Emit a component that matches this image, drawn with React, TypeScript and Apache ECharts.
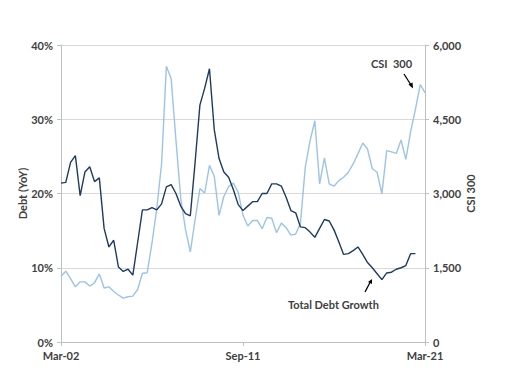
import React, { useEffect, useRef } from "react";
import * as echarts from "echarts";

const months = ["Mar", "Jun", "Sep", "Dec"];
const categories: string[] = [];
for (let y = 2; y <= 21; y++) {
  for (const m of months) {
    if (y === 21 && m !== "Mar") continue;
    categories.push(`${m}-${String(y).padStart(2, "0")}`);
  }
}

const debtGrowth: (number | null)[] = [
  21.4, 21.5, 24.2, 25.1, 19.7, 22.9, 23.6, 21.6, 22.1, 15.3,
  12.8, 13.7, 10.1, 9.5, 9.8, 9.0, 13.4, 17.8, 17.8, 18.1,
  17.8, 18.6, 20.9, 21.2, 20.0, 18.3, 17.3, 17.0, 24.2, 31.9,
  34.2, 36.8, 28.6, 24.7, 22.9, 22.2, 20.5, 18.5, 17.7, 18.3,
  18.9, 18.9, 20.0, 20.0, 21.3, 21.3, 21.0, 19.5, 17.7, 17.4,
  15.5, 15.4, 14.8, 14.1, 15.3, 16.5, 16.3, 15.1, 13.5, 11.8,
  11.9, 12.3, 12.8, 11.8, 10.7, 10.0, 9.2, 8.4, 9.3, 9.4,
  9.8, 10.0, 10.3, 11.9, 11.9, null, null,
];

const csi300: number[] = [
  1330, 1430, 1282, 1114, 1215, 1215, 1130, 1195, 1375, 1090,
  1114, 1020, 950, 885, 915, 926, 1060, 1390, 1400, 2000,
  2700, 3600, 5570, 5320, 4080, 2900, 2270, 1818, 2470, 3100,
  3010, 3570, 3350, 2557, 2940, 3140, 3210, 3026, 2560, 2345,
  2456, 2456, 2289, 2515, 2500, 2208, 2402, 2310, 2160, 2180,
  2402, 3529, 4066, 4469, 3194, 3718, 3194, 3147, 3261, 3328,
  3429, 3597, 3800, 4020, 3899, 3500, 3429, 2993, 3865, 3840,
  3810, 4080, 3690, 4250, 4700, 5200, 5040,
];

const shownLabels = ["Mar-02", "Sep-11", "Mar-21"];

const FONT = "Lato";
const TXT = "#404040";

export default function App() {
  const ref = useRef<HTMLDivElement>(null);
  useEffect(() => {
    if (!ref.current) return;
    const chart = echarts.init(ref.current, null, { renderer: "svg" });
    const showIdx = (i: number) => shownLabels.includes(categories[i]);
    chart.setOption({
      animation: false,
      backgroundColor: "#ffffff",
      grid: { left: 61, right: 93, top: 45, bottom: 33, containLabel: false },
      xAxis: {
        type: "category",
        data: categories,
        boundaryGap: false,
        axisLine: { show: true, lineStyle: { color: "#bfbfbf", width: 1 } },
        axisTick: { show: true, interval: (i: number) => showIdx(i), length: 4, lineStyle: { color: "#bfbfbf" } },
        axisLabel: {
          interval: (i: number) => showIdx(i),
          color: TXT,
          fontFamily: FONT,
          fontWeight: "bold",
          fontSize: 11,
          margin: 8,
        },
        splitLine: { show: false },
      },
      yAxis: [
        {
          type: "value",
          min: 0,
          max: 40,
          interval: 10,
          name: "Debt (YoY)",
          nameLocation: "middle",
          nameGap: 33,
          nameRotate: 90,
          nameMoveOverlap: false,
          nameTextStyle: { color: TXT, fontFamily: FONT, fontWeight: "bold", fontSize: 11 },
          axisLine: { show: true, lineStyle: { color: "#bfbfbf" } },
          axisTick: { show: true, length: 4, lineStyle: { color: "#bfbfbf" } },
          axisLabel: {
            formatter: (v: number) => `${v}%`,
            color: TXT,
            fontFamily: FONT,
            fontWeight: "bold",
            fontSize: 11,
            margin: 8,
          },
          splitLine: { show: true, lineStyle: { color: "#d9d9d9", width: 1 } },
        },
        {
          type: "value",
          min: 0,
          max: 6000,
          interval: 1500,
          name: "CSI 300",
          nameLocation: "middle",
          nameGap: 40,
          nameRotate: 90,
          nameMoveOverlap: false,
          nameTextStyle: { color: TXT, fontFamily: FONT, fontWeight: "bold", fontSize: 11 },
          axisLine: { show: true, lineStyle: { color: "#bfbfbf" } },
          axisTick: { show: true, length: 4, lineStyle: { color: "#bfbfbf" } },
          axisLabel: {
            formatter: (v: number) => v.toLocaleString("en-US"),
            color: TXT,
            fontFamily: FONT,
            fontWeight: "bold",
            fontSize: 11,
            margin: 8,
          },
          splitLine: { show: false },
        },
      ],
      series: [
        {
          name: "CSI 300",
          type: "line",
          yAxisIndex: 1,
          data: csi300,
          showSymbol: false,
          symbol: "none",
          lineStyle: { color: "#9dc3e6", width: 1.4 },
          z: 2,
        },
        {
          name: "Total Debt Growth",
          type: "line",
          yAxisIndex: 0,
          data: debtGrowth,
          showSymbol: false,
          symbol: "none",
          lineStyle: { color: "#1f3a5f", width: 1.4 },
          z: 3,
        },
      ],
      graphic: [
        {
          type: "text",
          left: 371,
          top: 58,
          style: { text: "CSI  300", fill: TXT, font: `bold 11px ${FONT}` },
        },
        {
          type: "line",
          shape: { x1: 404, y1: 74, x2: 411, y2: 85 },
          style: { stroke: "#000", lineWidth: 1.3 },
        },
        {
          type: "polygon",
          shape: { points: [[413, 88.5], [408.5, 84.5], [412.5, 82.5]] },
          style: { fill: "#000" },
        },
        {
          type: "text",
          left: 288,
          top: 299,
          style: { text: "Total Debt Growth", fill: TXT, font: `bold 11px ${FONT}` },
        },
        {
          type: "line",
          shape: { x1: 365, y1: 292, x2: 370, y2: 282.5 },
          style: { stroke: "#000", lineWidth: 1.3 },
        },
        {
          type: "polygon",
          shape: { points: [[372, 279], [368, 282], [372, 284]] },
          style: { fill: "#000" },
        },
      ],
    });
    return () => chart.dispose();
  }, []);
  return <div ref={ref} style={{ width: 518, height: 375, position: "absolute", left: 0, top: 0 }} />;
}
